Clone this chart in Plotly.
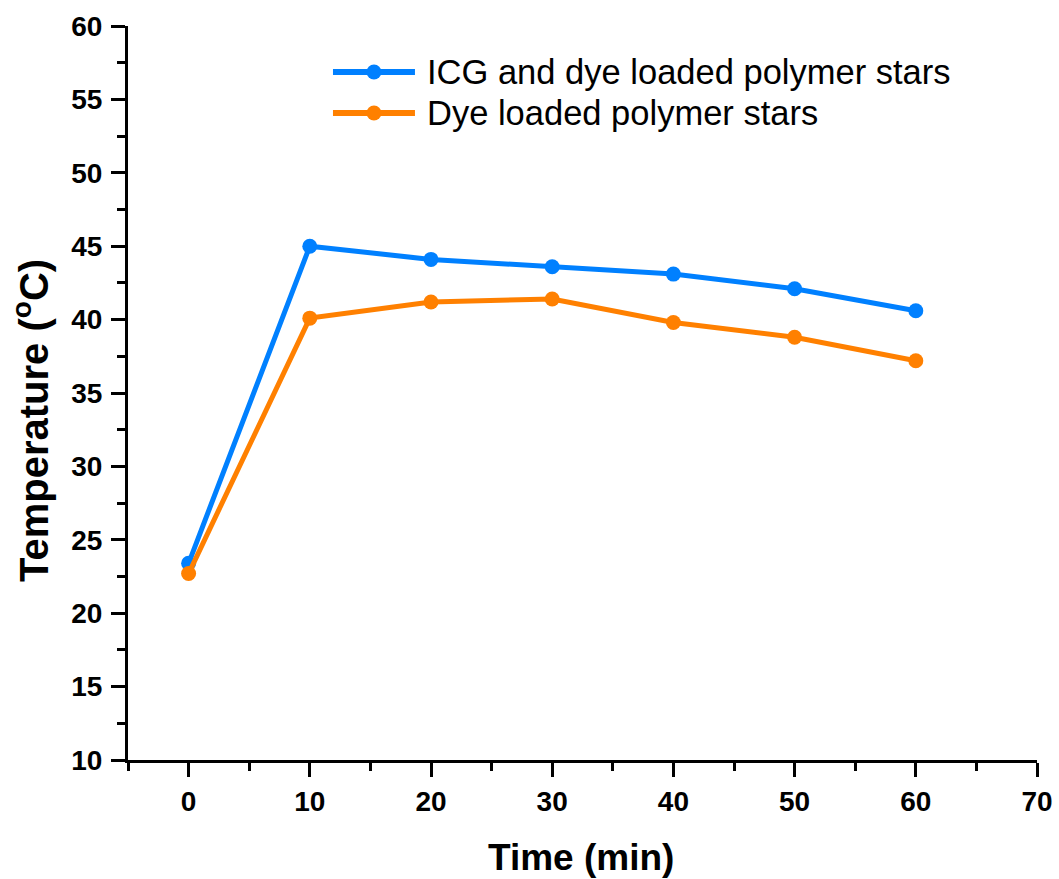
import plotly.graph_objects as go

time_min = [0, 10, 20, 30, 40, 50, 60]
icg_dye = [23.4, 45.0, 44.1, 43.6, 43.1, 42.1, 40.6]
dye_only = [22.7, 40.1, 41.2, 41.4, 39.8, 38.8, 37.2]
series_names = ["ICG and dye loaded polymer stars", "Dye loaded polymer stars"]
x_ticks = [0, 10, 20, 30, 40, 50, 60, 70]
y_ticks = [10, 15, 20, 25, 30, 35, 40, 45, 50, 55, 60]
x_title = "Time (min)"
y_title = "Temperature (<sup>o</sup>C)"

BLUE = "#0080FF"
ORANGE = "#FF8000"
FONT = "Liberation Sans, Arial, sans-serif"
colors = [BLUE, ORANGE]

fig = go.Figure()
for ys, name, col in zip([icg_dye, dye_only], series_names, colors):
    fig.add_trace(go.Scatter(
        x=time_min, y=ys, name=name, mode="lines+markers",
        line=dict(color=col, width=5),
        marker=dict(color=col, size=15, symbol="circle"),
        showlegend=False,
    ))

# custom legend (long line samples as in the reference)
leg_y = [0.9373, 0.8815]
for name, col, yy in zip(series_names, colors, leg_y):
    fig.add_shape(type="line", xref="paper", yref="paper",
                  x0=0.2255, x1=0.3157, y0=yy, y1=yy,
                  line=dict(color=col, width=6))
    fig.add_shape(type="circle", xref="paper", yref="paper",
                  xsizemode="pixel", ysizemode="pixel",
                  xanchor=0.2706, yanchor=yy,
                  x0=-7.5, x1=7.5, y0=-7.5, y1=7.5,
                  fillcolor=col, line=dict(color=col, width=0))
    fig.add_annotation(xref="paper", yref="paper", x=0.3267, y=yy,
                       xanchor="left", yanchor="middle", showarrow=False,
                       text=name, font=dict(family=FONT, size=34.5, color="black"))

# axis titles
fig.add_annotation(xref="paper", yref="paper", x=0.498, y=-0.133,
                   xanchor="center", yanchor="middle", showarrow=False,
                   text=x_title, font=dict(family=FONT, size=37, color="black", weight="bold"))
fig.add_annotation(xref="paper", yref="paper", x=-0.1067, y=0.4619,
                   xanchor="center", yanchor="middle", showarrow=False, textangle=-90,
                   text=y_title, font=dict(family=FONT, size=40, color="black", weight="bold"))

axis_common = dict(
    showline=True, linecolor="black", linewidth=3,
    ticks="outside", ticklen=14, tickwidth=3, tickcolor="black",
    showgrid=False, zeroline=False, mirror=False, automargin=False,
    tickfont=dict(family=FONT, size=28, color="black", weight="bold"),
)

fig.update_xaxes(
    range=[-5, 70], tickvals=x_ticks, ticklabelstandoff=0,
    minor=dict(dtick=5, tick0=0, ticks="outside", ticklen=8, tickwidth=3, tickcolor="black"),
    **axis_common,
)
fig.update_yaxes(
    range=[10, 60], tickvals=y_ticks, ticklabelstandoff=3,
    minor=dict(dtick=2.5, tick0=0, ticks="outside", ticklen=8, tickwidth=3, tickcolor="black"),
    **axis_common,
)

fig.update_layout(
    width=1059, height=879,
    margin=dict(l=128, r=22, t=26, b=119),
    plot_bgcolor="white", paper_bgcolor="white",
    showlegend=False,
)

fig.write_html("out.html")
